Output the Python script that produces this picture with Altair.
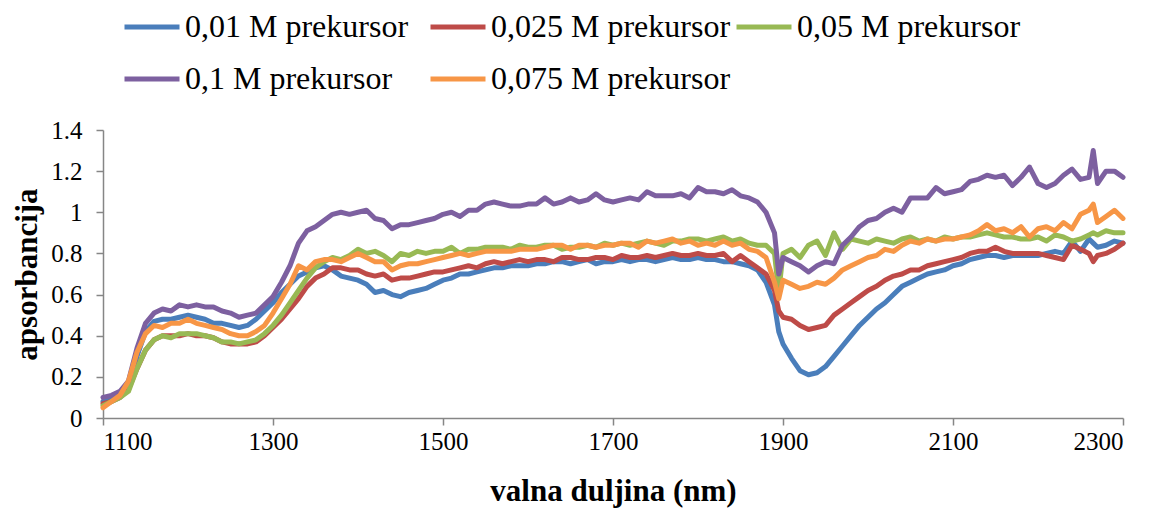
import altair as alt
import pandas as pd

WAVELENGTH = [
    1100, 1110, 1120, 1130, 1140, 1150, 1160, 1170, 1180, 1190,
    1200, 1210, 1220, 1230, 1240, 1250, 1260, 1270, 1280, 1290,
    1300, 1310, 1320, 1330, 1340, 1350, 1360, 1370, 1380, 1390,
    1400, 1410, 1420, 1430, 1440, 1450, 1460, 1470, 1480, 1490,
    1500, 1510, 1520, 1530, 1540, 1550, 1560, 1570, 1580, 1590,
    1600, 1610, 1620, 1630, 1640, 1650, 1660, 1670, 1680, 1690,
    1700, 1710, 1720, 1730, 1740, 1750, 1760, 1770, 1780, 1790,
    1800, 1810, 1820, 1830, 1840, 1850, 1860, 1870, 1880, 1890, 1895,
    1900, 1910, 1920, 1930, 1940, 1950, 1960, 1970, 1980, 1990,
    2000, 2010, 2020, 2030, 2040, 2050, 2060, 2070, 2080, 2090,
    2100, 2110, 2120, 2130, 2140, 2150, 2160, 2170, 2180, 2190,
    2200, 2210, 2220, 2230, 2240, 2250, 2260, 2265,
    2270, 2280, 2290, 2300,
]

S_001 = [
    0.08, 0.09, 0.11, 0.16, 0.30, 0.42, 0.47, 0.48, 0.48, 0.49,
    0.50, 0.49, 0.48, 0.46, 0.46, 0.45, 0.44, 0.45, 0.48, 0.52,
    0.56, 0.61, 0.65, 0.69, 0.71, 0.73, 0.74, 0.72, 0.69, 0.68,
    0.67, 0.65, 0.61, 0.62, 0.60, 0.59, 0.61, 0.62, 0.63, 0.65,
    0.67, 0.68, 0.70, 0.70, 0.71, 0.72, 0.73, 0.73, 0.74, 0.74,
    0.74, 0.75, 0.75, 0.76, 0.76, 0.75, 0.76, 0.77, 0.75, 0.76,
    0.76, 0.77, 0.76, 0.77, 0.77, 0.76, 0.77, 0.78, 0.77, 0.77,
    0.78, 0.77, 0.77, 0.76, 0.76, 0.75, 0.74, 0.72, 0.66, 0.55, 0.42,
    0.36, 0.29, 0.23, 0.21, 0.22, 0.25, 0.30, 0.35, 0.40, 0.45,
    0.49, 0.53, 0.56, 0.60, 0.64, 0.66, 0.68, 0.70, 0.71, 0.72,
    0.74, 0.75, 0.77, 0.78, 0.79, 0.79, 0.78, 0.79, 0.79, 0.79,
    0.79, 0.80, 0.81, 0.80, 0.86, 0.81, 0.87, 0.85,
    0.83, 0.84, 0.86, 0.85,
]

S_0025 = [
    0.07, 0.08, 0.10, 0.14, 0.24, 0.33, 0.38, 0.40, 0.40, 0.40,
    0.41, 0.40, 0.40, 0.39, 0.37, 0.36, 0.36, 0.36, 0.37, 0.40,
    0.44, 0.48, 0.53, 0.58, 0.64, 0.68, 0.70, 0.73, 0.73, 0.72,
    0.72, 0.70, 0.69, 0.70, 0.67, 0.68, 0.68, 0.69, 0.70, 0.71,
    0.71, 0.72, 0.73, 0.74, 0.73, 0.75, 0.76, 0.75, 0.76, 0.77,
    0.76, 0.77, 0.77, 0.76, 0.78, 0.78, 0.77, 0.77, 0.78, 0.78,
    0.77, 0.79, 0.78, 0.78, 0.79, 0.78, 0.79, 0.80, 0.79, 0.79,
    0.80, 0.79, 0.79, 0.80, 0.76, 0.79, 0.76, 0.73, 0.70, 0.62, 0.52,
    0.49, 0.48, 0.45, 0.43, 0.44, 0.45, 0.50, 0.53, 0.56, 0.59,
    0.62, 0.64, 0.67, 0.69, 0.70, 0.72, 0.72, 0.74, 0.75, 0.76,
    0.77, 0.78, 0.80, 0.81, 0.81, 0.83, 0.81, 0.80, 0.80, 0.80,
    0.80, 0.79, 0.78, 0.77, 0.84, 0.82, 0.80, 0.76,
    0.79, 0.80, 0.82, 0.85,
]

S_005 = [
    0.06, 0.08, 0.10, 0.13, 0.24, 0.33, 0.38, 0.40, 0.39, 0.41,
    0.41, 0.41, 0.40, 0.39, 0.37, 0.37, 0.36, 0.37, 0.38, 0.41,
    0.45, 0.50, 0.56, 0.62, 0.68, 0.73, 0.76, 0.78, 0.77, 0.79,
    0.82, 0.80, 0.81, 0.79, 0.76, 0.80, 0.79, 0.81, 0.80, 0.81,
    0.81, 0.83, 0.80, 0.82, 0.82, 0.83, 0.83, 0.83, 0.82, 0.84,
    0.83, 0.83, 0.84, 0.84, 0.82, 0.83, 0.83, 0.84, 0.83, 0.85,
    0.84, 0.85, 0.84, 0.85, 0.86, 0.85, 0.84, 0.86, 0.86, 0.87,
    0.87, 0.86, 0.87, 0.88, 0.86, 0.87, 0.85, 0.84, 0.84, 0.80, 0.61,
    0.80, 0.82, 0.78, 0.84, 0.86, 0.79, 0.90, 0.82, 0.87, 0.86,
    0.85, 0.87, 0.86, 0.85, 0.87, 0.88, 0.86, 0.87, 0.86, 0.88,
    0.87, 0.88, 0.88, 0.89, 0.90, 0.89, 0.88, 0.88, 0.87, 0.87,
    0.88, 0.86, 0.89, 0.88, 0.86, 0.87, 0.89, 0.90,
    0.89, 0.91, 0.90, 0.90,
]

S_01 = [
    0.10, 0.11, 0.13, 0.18, 0.34, 0.46, 0.51, 0.53, 0.52, 0.55,
    0.54, 0.55, 0.54, 0.54, 0.52, 0.51, 0.49, 0.50, 0.51, 0.55,
    0.59, 0.66, 0.74, 0.85, 0.91, 0.93, 0.96, 0.99, 1.00, 0.99,
    1.00, 1.01, 0.97, 0.96, 0.92, 0.94, 0.94, 0.95, 0.96, 0.97,
    0.99, 1.00, 0.98, 1.01, 1.01, 1.04, 1.05, 1.04, 1.03, 1.03,
    1.04, 1.04, 1.07, 1.04, 1.05, 1.07, 1.05, 1.06, 1.09, 1.06,
    1.05, 1.06, 1.07, 1.06, 1.10, 1.08, 1.08, 1.08, 1.09, 1.07,
    1.12, 1.10, 1.10, 1.09, 1.11, 1.08, 1.07, 1.05, 1.00, 0.90, 0.70,
    0.78, 0.76, 0.74, 0.71, 0.74, 0.76, 0.75, 0.84, 0.88, 0.93,
    0.96, 0.97, 1.00, 1.02, 1.00, 1.07, 1.07, 1.07, 1.12, 1.09,
    1.10, 1.11, 1.15, 1.16, 1.18, 1.17, 1.18, 1.13, 1.17, 1.22,
    1.14, 1.12, 1.14, 1.18, 1.21, 1.16, 1.17, 1.30,
    1.14, 1.20, 1.20, 1.17,
]

S_0075 = [
    0.05, 0.08, 0.11, 0.18, 0.32, 0.41, 0.45, 0.44, 0.46, 0.46,
    0.48, 0.46, 0.45, 0.44, 0.43, 0.41, 0.40, 0.40, 0.42, 0.45,
    0.51, 0.58, 0.65, 0.74, 0.72, 0.76, 0.77, 0.77, 0.76, 0.78,
    0.80, 0.78, 0.76, 0.76, 0.72, 0.74, 0.75, 0.75, 0.76, 0.77,
    0.78, 0.79, 0.80, 0.79, 0.80, 0.81, 0.81, 0.81, 0.81, 0.82,
    0.82, 0.82, 0.83, 0.84, 0.84, 0.82, 0.84, 0.84, 0.83, 0.84,
    0.84, 0.85, 0.85, 0.83, 0.86, 0.85, 0.86, 0.87, 0.85, 0.86,
    0.84, 0.85, 0.84, 0.86, 0.84, 0.85, 0.82, 0.81, 0.78, 0.66, 0.58,
    0.67, 0.65, 0.63, 0.64, 0.66, 0.65, 0.68, 0.72, 0.74, 0.76,
    0.78, 0.79, 0.82, 0.81, 0.84, 0.86, 0.85, 0.87, 0.86, 0.87,
    0.87, 0.88, 0.89, 0.91, 0.94, 0.91, 0.92, 0.90, 0.93, 0.88,
    0.92, 0.93, 0.91, 0.95, 0.92, 0.99, 1.01, 1.04,
    0.95, 0.98, 1.01, 0.97,
]

SERIES_NAMES = [
    "0,01 M prekursor",
    "0,025 M prekursor",
    "0,05 M prekursor",
    "0,1 M prekursor",
    "0,075 M prekursor",
]
SERIES_VALUES = [S_001, S_0025, S_005, S_01, S_0075]
COLORS = ["#4A7EBB", "#BE4B48", "#98B954", "#7D60A0", "#F79646"]

X_TICKS = [1100, 1300, 1500, 1700, 1900, 2100, 2300]
Y_TICKS = [0, 0.2, 0.4, 0.6, 0.8, 1.0, 1.2, 1.4]

rows = []
for idx, (name, vals) in enumerate(zip(SERIES_NAMES, SERIES_VALUES)):
    for wl, v in zip(WAVELENGTH, vals):
        rows.append({"wl": wl, "val": v, "series": name, "ord": idx})
df = pd.DataFrame(rows)

FONT = "Liberation Serif, Times New Roman, serif"

chart = (
    alt.Chart(df)
    .mark_line(strokeWidth=5, strokeCap="round", strokeJoin="round")
    .encode(
        x=alt.X(
            "wl:Q",
            scale=alt.Scale(domain=[1100, 2300], nice=False, zero=False),
            axis=alt.Axis(
                values=X_TICKS,
                format="d",
                title="valna duljina (nm)",
                grid=False,
                tickSize=7,
                labelPadding=4,
                titleY=73,
                titleBaseline="middle",
            ),
        ),
        y=alt.Y(
            "val:Q",
            scale=alt.Scale(domain=[0, 1.4], nice=False),
            axis=alt.Axis(
                values=Y_TICKS,
                format="~g",
                title="apsorbancija",
                grid=False,
                tickSize=7,
                labelPadding=14,
                titleX=-76,
                titleY=144,
                titleAngle=-90,
                titleAlign="center",
                titleBaseline="middle",
            ),
        ),
        color=alt.Color(
            "series:N",
            scale=alt.Scale(domain=SERIES_NAMES, range=COLORS),
            legend=alt.Legend(
                title=None,
                orient="none",
                direction="horizontal",
                legendX=19,
                legendY=-133,
                columns=3,
                columnPadding=-5,
                rowPadding=6,
                gridAlign="all",
                symbolType="stroke",
                symbolSize=3025,
                symbolStrokeWidth=5,
                labelFontSize=32,
                labelFont=FONT,
                labelColor="#000000",
                labelOffset=3,
                labelLimit=500,
            ),
        ),
        order=alt.Order("ord:Q"),
    )
    .properties(
        width=1020,
        height=288,
        autosize=alt.AutoSizeParams(type="none"),
        padding={"left": 95, "top": 122, "right": 22, "bottom": 92},
    )
    .configure_view(stroke=None)
    .configure_legend(labelFont=FONT, labelFontSize=32)
    .configure_axis(
        domainColor="#868686",
        tickColor="#868686",
        domainWidth=1.5,
        tickWidth=1.5,
        labelFont=FONT,
        labelFontSize=25,
        labelColor="#000000",
        titleFont=FONT,
        titleFontSize=31,
        titleFontWeight="bold",
        titleColor="#000000",
    )
)

chart.save("out.html", embed_options={"renderer": "svg", "actions": False})
